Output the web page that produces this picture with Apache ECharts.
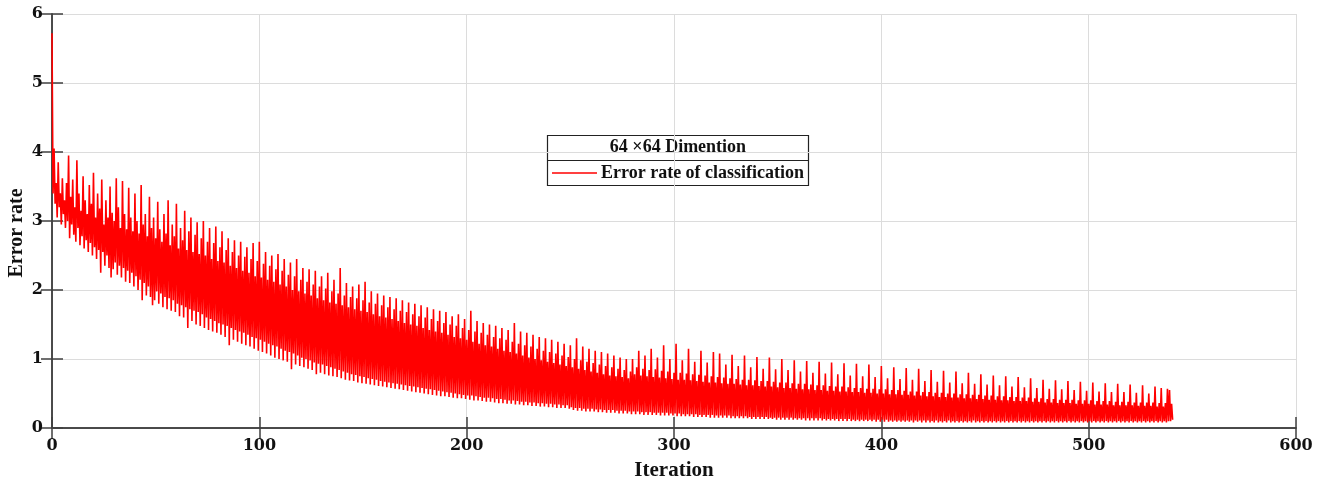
<!DOCTYPE html>
<html>
<head>
<meta charset="utf-8">
<title>Error rate of classification</title>
<script src="https://cdn.jsdelivr.net/npm/echarts@6/dist/echarts.min.js"></script>
<style>
  html, body { margin: 0; padding: 0; background: #ffffff; }
  #chart { width: 1322px; height: 488px; }
</style>
</head>
<body>
<div id="chart"></div>
<script>
// Each iteration has a peak and a trough error rate (iterations 0..540),
// stored in blocks of 100 iterations.
const peak000 = [
  5.72, 4.05, 3.55, 3.85, 3.4, 3.62, 3.3, 3.55, 3.95, 3.35,
  3.6, 3.2, 3.88, 3.4, 3.15, 3.65, 3.3, 3.1, 3.52, 3.25,
  3.7, 3.05, 3.4, 3.18, 3.6, 2.95, 3.3, 3.05, 3.5, 3.12,
  3.0, 3.62, 3.2, 2.9, 3.58, 3.1, 2.88, 3.48, 3.05, 2.85,
  3.4, 3.0, 2.82, 3.52, 2.95, 3.1, 2.78, 3.35, 2.9, 3.05,
  2.75, 3.28, 2.88, 2.7, 3.1, 2.82, 3.3, 2.65, 2.95, 2.78,
  3.25, 2.6, 2.9, 2.72, 3.15, 2.58, 2.85, 3.05, 2.55, 2.8,
  2.98, 2.52, 2.75, 3.0, 2.5, 2.7, 2.9, 2.45, 2.68, 2.92,
  2.42, 2.62, 2.85, 2.4, 2.58, 2.75, 2.35, 2.55, 2.72, 2.32,
  2.5, 2.7, 2.28, 2.48, 2.62, 2.25, 2.45, 2.68, 2.2, 2.42
];
const peak100 = [
  2.7, 2.18, 2.38, 2.55, 2.15, 2.35, 2.5, 2.12, 2.3, 2.52,
  2.08, 2.28, 2.45, 2.05, 2.22, 2.4, 2.0, 2.2, 2.45, 1.98,
  2.15, 2.32, 1.95, 2.12, 2.3, 1.92, 2.08, 2.28, 1.88, 2.05,
  2.2, 1.85, 2.02, 2.25, 1.82, 1.98, 2.15, 1.8, 1.95, 2.32,
  1.78, 1.92, 2.1, 1.75, 1.9, 2.05, 1.72, 1.88, 2.08, 1.7,
  1.85, 2.12, 1.68, 1.82, 1.98, 1.65, 1.8, 1.95, 1.62, 1.78,
  1.92, 1.6, 1.75, 1.9, 1.58, 1.72, 1.88, 1.55, 1.7, 1.85,
  1.52, 1.68, 1.82, 1.5, 1.65, 1.8, 1.48, 1.62, 1.78, 1.45,
  1.6, 1.75, 1.42, 1.58, 1.72, 1.4, 1.55, 1.7, 1.38, 1.52,
  1.68, 1.35, 1.5, 1.62, 1.32, 1.48, 1.65, 1.3, 1.45, 1.58
];
const peak200 = [
  1.28, 1.42, 1.7, 1.25, 1.4, 1.55, 1.22, 1.38, 1.52, 1.2,
  1.35, 1.5, 1.18, 1.32, 1.48, 1.15, 1.3, 1.45, 1.12, 1.28,
  1.42, 1.1, 1.25, 1.52, 1.08, 1.22, 1.4, 1.05, 1.2, 1.38,
  1.02, 1.18, 1.35, 1.0, 1.15, 1.32, 0.98, 1.12, 1.3, 0.96,
  1.1, 1.28, 0.94, 1.08, 1.25, 0.92, 1.05, 1.22, 0.9, 1.03,
  1.2, 0.88, 1.0, 1.3, 0.86, 0.98, 1.18, 0.84, 0.96, 1.15,
  0.82, 0.94, 1.12, 0.8, 0.92, 1.1, 0.78, 0.9, 1.08, 0.76,
  0.88, 1.05, 0.75, 0.86, 1.02, 0.74, 0.84, 1.0, 0.72, 0.82,
  1.0, 0.78, 0.88, 1.12, 0.76, 0.86, 1.05, 0.75, 0.84, 1.15,
  0.74, 0.85, 1.02, 0.73, 0.83, 1.2, 0.72, 0.82, 1.0, 0.71
];
const peak300 = [
  0.8, 1.22, 0.7, 0.8, 0.98, 0.7, 0.79, 1.15, 0.69, 0.78,
  0.96, 0.68, 0.77, 1.12, 0.67, 0.76, 0.95, 0.66, 0.75, 1.1,
  0.66, 0.74, 1.08, 0.65, 0.73, 0.92, 0.64, 0.72, 1.06, 0.64,
  0.71, 0.9, 0.63, 0.7, 1.05, 0.62, 0.7, 0.88, 0.62, 0.69,
  1.03, 0.61, 0.68, 0.86, 0.6, 0.68, 1.02, 0.6, 0.67, 0.85,
  0.59, 0.66, 1.0, 0.58, 0.66, 0.84, 0.58, 0.65, 0.98, 0.57,
  0.64, 0.82, 0.56, 0.64, 0.97, 0.56, 0.63, 0.8, 0.55, 0.62,
  0.96, 0.55, 0.62, 0.79, 0.54, 0.61, 0.95, 0.54, 0.6, 0.78,
  0.53, 0.6, 0.94, 0.53, 0.59, 0.76, 0.52, 0.58, 0.93, 0.52,
  0.58, 0.75, 0.51, 0.57, 0.92, 0.51, 0.57, 0.74, 0.5, 0.56
];
const peak400 = [
  0.9, 0.5, 0.56, 0.72, 0.49, 0.55, 0.88, 0.49, 0.55, 0.71,
  0.48, 0.54, 0.87, 0.48, 0.53, 0.7, 0.47, 0.53, 0.86, 0.47,
  0.52, 0.68, 0.46, 0.52, 0.84, 0.46, 0.51, 0.67, 0.45, 0.51,
  0.83, 0.45, 0.5, 0.66, 0.44, 0.5, 0.82, 0.44, 0.49, 0.65,
  0.43, 0.49, 0.8, 0.43, 0.48, 0.64, 0.42, 0.48, 0.78, 0.42,
  0.47, 0.63, 0.41, 0.47, 0.76, 0.41, 0.46, 0.62, 0.4, 0.46,
  0.75, 0.4, 0.45, 0.6, 0.39, 0.45, 0.74, 0.39, 0.44, 0.59,
  0.39, 0.44, 0.72, 0.38, 0.43, 0.58, 0.38, 0.43, 0.7, 0.37,
  0.42, 0.57, 0.37, 0.42, 0.69, 0.36, 0.41, 0.56, 0.36, 0.41,
  0.68, 0.36, 0.41, 0.55, 0.35, 0.4, 0.67, 0.35, 0.4, 0.54
];
const peak500 = [
  0.35, 0.4, 0.66, 0.34, 0.39, 0.53, 0.34, 0.39, 0.65, 0.34,
  0.39, 0.52, 0.33, 0.38, 0.64, 0.33, 0.38, 0.52, 0.33, 0.38,
  0.63, 0.33, 0.37, 0.51, 0.32, 0.37, 0.62, 0.32, 0.37, 0.5,
  0.32, 0.37, 0.6, 0.31, 0.36, 0.58, 0.31, 0.36, 0.57, 0.55,
  0.35
];

const trough000 = [
  3.4, 3.25, 3.05, 3.2, 2.95, 3.1, 2.9, 3.0, 2.75, 2.95,
  2.8, 2.7, 2.9, 2.65, 2.78, 2.6, 2.72, 2.55, 2.68, 2.5,
  2.62, 2.45, 2.58, 2.25, 2.55, 2.35, 2.5, 2.32, 2.18, 2.3,
  2.4, 2.22, 2.35, 2.18, 2.32, 2.12, 2.28, 2.1, 2.25, 2.05,
  2.2, 2.0, 2.15, 1.85, 2.1, 1.92, 2.05, 1.9, 1.78, 1.85,
  1.98, 1.8, 1.95, 1.75, 1.9, 1.72, 1.88, 1.7, 1.85, 1.68,
  1.8, 1.62, 1.78, 1.6, 1.75, 1.45, 1.72, 1.55, 1.7, 1.5,
  1.68, 1.48, 1.65, 1.45, 1.6, 1.42, 1.58, 1.4, 1.55, 1.38,
  1.52, 1.35, 1.5, 1.32, 1.48, 1.2, 1.45, 1.28, 1.42, 1.25,
  1.4, 1.22, 1.38, 1.2, 1.35, 1.18, 1.32, 1.15, 1.3, 1.12
];
const trough100 = [
  1.28, 1.1, 1.25, 1.08, 1.22, 1.05, 1.2, 1.02, 1.18, 1.0,
  1.15, 0.98, 1.12, 0.96, 1.1, 0.85, 1.08, 0.92, 1.05, 0.9,
  1.02, 0.88, 1.0, 0.86, 0.98, 0.84, 0.95, 0.78, 0.93, 0.8,
  0.92, 0.78, 0.9, 0.76, 0.88, 0.75, 0.86, 0.74, 0.84, 0.72,
  0.82, 0.7, 0.8, 0.69, 0.78, 0.68, 0.77, 0.66, 0.75, 0.65,
  0.74, 0.64, 0.72, 0.63, 0.71, 0.62, 0.7, 0.61, 0.68, 0.6,
  0.67, 0.59, 0.66, 0.58, 0.65, 0.57, 0.64, 0.56, 0.63, 0.55,
  0.62, 0.54, 0.61, 0.53, 0.6, 0.52, 0.59, 0.51, 0.58, 0.5,
  0.57, 0.49, 0.56, 0.48, 0.55, 0.47, 0.54, 0.46, 0.53, 0.46,
  0.52, 0.45, 0.51, 0.44, 0.5, 0.43, 0.49, 0.43, 0.48, 0.42
];
const trough200 = [
  0.47, 0.41, 0.47, 0.4, 0.46, 0.4, 0.45, 0.39, 0.44, 0.38,
  0.44, 0.38, 0.43, 0.37, 0.42, 0.36, 0.42, 0.36, 0.41, 0.35,
  0.4, 0.35, 0.4, 0.34, 0.39, 0.34, 0.38, 0.33, 0.38, 0.33,
  0.37, 0.32, 0.37, 0.32, 0.36, 0.31, 0.36, 0.31, 0.35, 0.3,
  0.35, 0.3, 0.34, 0.29, 0.34, 0.29, 0.33, 0.29, 0.33, 0.28,
  0.3, 0.26, 0.29, 0.25, 0.29, 0.25, 0.28, 0.24, 0.28, 0.24,
  0.28, 0.24, 0.27, 0.23, 0.27, 0.23, 0.26, 0.22, 0.26, 0.22,
  0.26, 0.22, 0.25, 0.21, 0.25, 0.21, 0.25, 0.21, 0.24, 0.2,
  0.24, 0.2, 0.24, 0.2, 0.23, 0.19, 0.23, 0.19, 0.23, 0.19,
  0.22, 0.19, 0.22, 0.18, 0.22, 0.18, 0.22, 0.18, 0.21, 0.18
];
const trough300 = [
  0.21, 0.17, 0.21, 0.17, 0.2, 0.17, 0.2, 0.17, 0.2, 0.16,
  0.2, 0.16, 0.19, 0.16, 0.19, 0.16, 0.19, 0.15, 0.19, 0.15,
  0.18, 0.15, 0.18, 0.15, 0.18, 0.15, 0.18, 0.14, 0.17, 0.14,
  0.17, 0.14, 0.17, 0.14, 0.17, 0.14, 0.16, 0.13, 0.16, 0.13,
  0.16, 0.13, 0.16, 0.13, 0.16, 0.13, 0.15, 0.13, 0.15, 0.12,
  0.15, 0.12, 0.15, 0.12, 0.15, 0.12, 0.15, 0.12, 0.14, 0.12,
  0.14, 0.12, 0.14, 0.11, 0.14, 0.11, 0.14, 0.11, 0.14, 0.11,
  0.14, 0.11, 0.13, 0.11, 0.13, 0.11, 0.13, 0.11, 0.13, 0.1,
  0.13, 0.1, 0.13, 0.1, 0.13, 0.1, 0.12, 0.1, 0.12, 0.1,
  0.12, 0.1, 0.12, 0.1, 0.12, 0.1, 0.12, 0.09, 0.12, 0.09
];
const trough400 = [
  0.12, 0.09, 0.12, 0.09, 0.11, 0.09, 0.11, 0.09, 0.11, 0.09,
  0.11, 0.09, 0.11, 0.09, 0.11, 0.08, 0.11, 0.09, 0.11, 0.08,
  0.11, 0.08, 0.11, 0.08, 0.1, 0.08, 0.11, 0.08, 0.1, 0.08,
  0.1, 0.08, 0.11, 0.08, 0.1, 0.08, 0.1, 0.08, 0.1, 0.08,
  0.1, 0.08, 0.1, 0.08, 0.11, 0.08, 0.1, 0.08, 0.1, 0.08,
  0.1, 0.08, 0.1, 0.08, 0.1, 0.08, 0.1, 0.08, 0.1, 0.08,
  0.1, 0.08, 0.1, 0.08, 0.1, 0.08, 0.1, 0.08, 0.1, 0.08,
  0.1, 0.08, 0.1, 0.08, 0.1, 0.08, 0.1, 0.08, 0.1, 0.08,
  0.1, 0.08, 0.1, 0.08, 0.1, 0.08, 0.1, 0.08, 0.1, 0.08,
  0.1, 0.08, 0.1, 0.08, 0.1, 0.08, 0.1, 0.08, 0.1, 0.08
];
const trough500 = [
  0.1, 0.08, 0.1, 0.08, 0.1, 0.08, 0.1, 0.08, 0.1, 0.08,
  0.1, 0.08, 0.1, 0.08, 0.1, 0.08, 0.1, 0.08, 0.1, 0.08,
  0.1, 0.08, 0.1, 0.08, 0.1, 0.08, 0.1, 0.08, 0.1, 0.08,
  0.1, 0.08, 0.1, 0.08, 0.1, 0.08, 0.1, 0.08, 0.1, 0.1,
  0.12
];

const xTicks = [0, 100, 200, 300, 400, 500, 600];
const yTicks = [0, 1, 2, 3, 4, 5, 6];
const seriesName = 'Error rate of classification';
const legendTitle = '64 \u00d764 Dimention';
const xName = 'Iteration';
const yName = 'Error rate';

const peaks = [].concat(peak000, peak100, peak200, peak300, peak400, peak500);
const troughs = [].concat(trough000, trough100, trough200, trough300, trough400, trough500);

// Within each iteration the error goes from its peak down to its trough.
const points = [];
peaks.forEach((p, i) => {
  points.push([i, p]);
  points.push([i + 0.5, troughs[i]]);
});

const tickFont = 'DejaVu Serif';
const nameFont = 'Liberation Serif';
const axisColor = '#404040';
const gridColor = '#dcdcdc';

const chart = echarts.init(document.getElementById('chart'), null, { renderer: 'canvas' });

const baseX = {
  type: 'value',
  min: xTicks[0],
  max: xTicks[xTicks.length - 1],
  interval: xTicks[1] - xTicks[0]
};
const baseY = {
  type: 'value',
  min: yTicks[0],
  max: yTicks[yTicks.length - 1],
  interval: yTicks[1] - yTicks[0]
};

chart.setOption({
  animation: false,
  backgroundColor: '#ffffff',
  grid: { left: 52, right: 26, top: 14, bottom: 60, containLabel: false, outerBoundsMode: 'none' },
  xAxis: [
    Object.assign({}, baseX, {
      position: 'bottom',
      name: xName,
      nameLocation: 'middle',
      nameGap: 32,
      nameTextStyle: { fontFamily: nameFont, fontWeight: 'bold', fontSize: 21, color: '#111' },
      axisLine: { show: true, lineStyle: { color: axisColor, width: 1.5 } },
      axisTick: { show: true, inside: true, length: 11, lineStyle: { color: axisColor, width: 1.5 } },
      axisLabel: { fontFamily: tickFont, fontWeight: 'bold', fontSize: 16, color: '#111', margin: 10 },
      splitLine: { show: true, lineStyle: { color: gridColor, width: 1 } }
    }),
    Object.assign({}, baseX, {
      position: 'top',
      axisLine: { show: true, lineStyle: { color: axisColor, width: 1.5 } },
      axisTick: { show: true, inside: true, length: 11, lineStyle: { color: axisColor, width: 1.5 } },
      axisLabel: { show: false },
      splitLine: { show: false }
    })
  ],
  yAxis: [
    Object.assign({}, baseY, {
      position: 'left',
      axisLine: { show: true, lineStyle: { color: axisColor, width: 1.5 } },
      axisTick: { show: true, inside: true, length: 11, lineStyle: { color: axisColor, width: 1.5 } },
      axisLabel: { fontFamily: tickFont, fontWeight: 'bold', fontSize: 16, color: '#111', margin: 9 },
      splitLine: { show: true, lineStyle: { color: gridColor, width: 1 } }
    }),
    Object.assign({}, baseY, {
      position: 'right',
      axisLine: { show: true, lineStyle: { color: axisColor, width: 1.5 } },
      axisTick: { show: true, inside: true, length: 11, lineStyle: { color: axisColor, width: 1.5 } },
      axisLabel: { show: false },
      splitLine: { show: false }
    })
  ],
  legend: {
    left: 552,
    top: 164,
    icon: 'rect',
    itemWidth: 45,
    itemHeight: 1.5,
    itemGap: 4,
    padding: 0,
    z: 20,
    textStyle: { fontFamily: nameFont, fontWeight: 'bold', fontSize: 18, color: '#111', padding: [0, 0, 0, -1] },
    data: [seriesName]
  },
  graphic: [
    {
      // y-axis title, written bottom-to-top beside the tick labels
      type: 'text',
      x: 17,
      y: 233,
      rotation: Math.PI / 2,
      z: 10,
      style: { text: yName, fontFamily: nameFont, fontWeight: 'bold', fontSize: 20,
               fill: '#111', align: 'center', verticalAlign: 'middle' }
    },
    {
      type: 'group',
      z: 10,
      children: [
        { type: 'rect', shape: { x: 547.5, y: 135.5, width: 261, height: 50 },
          style: { fill: '#ffffff', stroke: '#222222', lineWidth: 1.2 } },
        { type: 'line', shape: { x1: 547.5, y1: 160.5, x2: 808.5, y2: 160.5 },
          style: { stroke: '#222222', lineWidth: 1 } },
        { type: 'text', x: 678, y: 147,
          style: { text: legendTitle, fontFamily: nameFont, fontWeight: 'bold', fontSize: 18,
                   fill: '#111', align: 'center', verticalAlign: 'middle' } }
      ]
    }
  ],
  series: [
    {
      name: seriesName,
      type: 'line',
      xAxisIndex: 0,
      yAxisIndex: 0,
      data: points,
      showSymbol: false,
      symbol: 'none',
      sampling: null,
      lineStyle: { color: '#ff0000', width: 1.6 },
      itemStyle: { color: '#ff0000' },
      z: 3
    }
  ]
});
</script>
</body>
</html>
